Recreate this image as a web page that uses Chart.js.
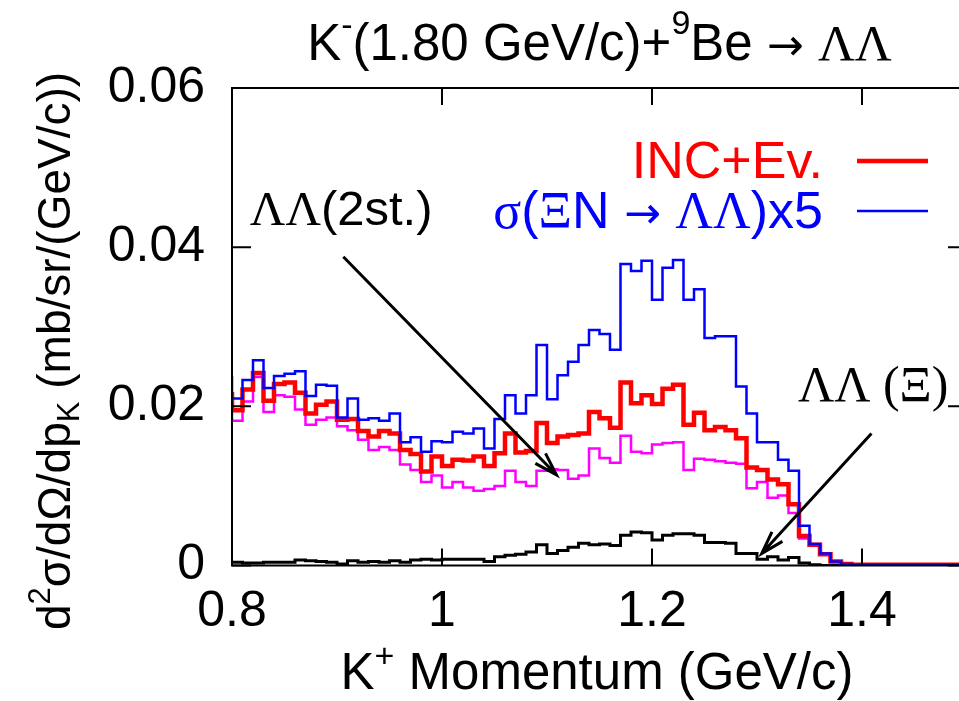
<!DOCTYPE html>
<html>
<head>
<meta charset="utf-8">
<script src="https://cdn.jsdelivr.net/npm/chart.js@4/dist/chart.umd.min.js"></script>
<style>
  html, body { margin: 0; padding: 0; background: #fff; overflow: hidden; }
  #wrap { width: 970px; height: 701px; }
</style>
</head>
<body>
<div id="wrap"><canvas id="spectrum" width="970" height="701"></canvas></div>
<script>
// K+ momentum bins: 0.80 ... 1.50 GeV/c, 0.01 wide
const binStart = 0.80;
const binWidth = 0.01;

// INC+Ev. (red)
const incEv = [
  0.0218, 0.0195, 0.0221, 0.0242, 0.0207, 0.0228, 0.0230, 0.0217, 0.0191, 0.0202,
  0.0206, 0.0183, 0.0184, 0.0169, 0.0162, 0.0169, 0.0166, 0.0145, 0.0140, 0.0118,
  0.0137, 0.0125, 0.0133, 0.0132, 0.0137, 0.0125, 0.0141, 0.0166, 0.0142, 0.0144,
  0.0179, 0.0154, 0.0162, 0.0164, 0.0166, 0.0193, 0.0185, 0.0173, 0.0230, 0.0204,
  0.0214, 0.0203, 0.0222, 0.0227, 0.0177, 0.0192, 0.0170, 0.0174, 0.0170, 0.0160,
  0.0123, 0.0120, 0.0108, 0.0102, 0.0077, 0.0037, 0.0026, 0.0014, 0.0005, 0.0002,
  0.0001, 0.0001, 0.0001, 0.0001, 0.0001, 0.0001, 0.0001, 0.0001, 0.0001, 0.0001
];

// sigma(XiN -> LL) x5 (blue)
const xiNx5 = [
  0.0238, 0.0210, 0.0233, 0.0258, 0.0223, 0.0238, 0.0241, 0.0244, 0.0213, 0.0227,
  0.0226, 0.0186, 0.0210, 0.0183, 0.0185, 0.0182, 0.0191, 0.0155, 0.0161, 0.0143,
  0.0156, 0.0155, 0.0168, 0.0166, 0.0172, 0.0147, 0.0184, 0.0214, 0.0191, 0.0214,
  0.0277, 0.0209, 0.0239, 0.0256, 0.0277, 0.0296, 0.0291, 0.0271, 0.0379, 0.0370,
  0.0383, 0.0334, 0.0374, 0.0384, 0.0334, 0.0347, 0.0286, 0.0288, 0.0288, 0.0225,
  0.0191, 0.0155, 0.0155, 0.0133, 0.0119, 0.0050, 0.0027, 0.0015, 0.0005, 0.0002,
  0.0001, 0.0001, 0.0001, 0.0001, 0.0001, 0.0001, 0.0001, 0.0001, 0.0001, 0.0001
];

// LL two-step (magenta)
const twoStep = [
  0.0206, 0.0182, 0.0206, 0.0237, 0.0193, 0.0214, 0.0212, 0.0196, 0.0177, 0.0183,
  0.0186, 0.0175, 0.0170, 0.0158, 0.0145, 0.0149, 0.0145, 0.0127, 0.0120, 0.0105,
  0.0113, 0.0098, 0.0105, 0.0098, 0.0094, 0.0096, 0.0100, 0.0119, 0.0105, 0.0100,
  0.0119, 0.0121, 0.0120, 0.0109, 0.0113, 0.0147, 0.0135, 0.0129, 0.0163, 0.0143,
  0.0141, 0.0152, 0.0154, 0.0155, 0.0120, 0.0134, 0.0133, 0.0131, 0.0129, 0.0128,
  0.0097, 0.0105, 0.0085, 0.0088, 0.0066, 0.0034, 0.0026, 0.0014, 0.0005, 0.0002,
  0.0001, 0.0001, 0.0001, 0.0001, 0.0001, 0.0001, 0.0001, 0.0001, 0.0001, 0.0001
];

// LL via Xi (black)
const viaXi = [
  0.0004, 0.0004, 0.0003, 0.0003, 0.0004, 0.0004, 0.0004, 0.0007, 0.0006, 0.0005,
  0.0004, 0.0002, 0.0006, 0.0004, 0.0005, 0.0004, 0.0006, 0.0004, 0.0007, 0.0008,
  0.0007, 0.0008, 0.0008, 0.0008, 0.0008, 0.0005, 0.0011, 0.0013, 0.0014, 0.0017,
  0.0026, 0.0015, 0.0019, 0.0023, 0.0028, 0.0026, 0.0027, 0.0025, 0.0038, 0.0042,
  0.0041, 0.0032, 0.0038, 0.0040, 0.0040, 0.0038, 0.0029, 0.0029, 0.0028, 0.0015,
  0.0015, 0.0008, 0.0011, 0.0007, 0.0010, 0.0003, 0.0001, 0.0000, 0.0000, 0.0000,
  0.0000, 0.0000, 0.0000, 0.0000, 0.0000, 0.0000, 0.0000, 0.0000, 0.0000, 0.0000
];

const xTicks = [0.8, 1.0, 1.2, 1.4];
const yTicks = [0, 0.02, 0.04, 0.06];

const SANS = '"Liberation Sans", Arial, Helvetica, sans-serif';
const SERIF = '"Liberation Serif", "Times New Roman", serif';
const ARROW = '"DejaVu Sans", sans-serif';

// turn a list of bin contents into a step outline
function histo(values) {
  const pts = values.map((v, i) => ({ x: +(binStart + i * binWidth).toFixed(2), y: v }));
  pts.push({ x: +(binStart + values.length * binWidth).toFixed(2), y: values[values.length - 1] });
  return pts;
}

function drawRuns(ctx, runs, x, y, align, color) {
  let total = 0;
  runs.forEach(r => {
    ctx.font = r.font;
    r.w = ctx.measureText(r.t).width;
    total += r.w;
  });
  let cx = align === 'center' ? x - total / 2 : align === 'right' ? x - total : x;
  ctx.textAlign = 'left';
  ctx.textBaseline = 'alphabetic';
  runs.forEach(r => {
    ctx.font = r.font;
    ctx.fillStyle = r.color || color;
    ctx.fillText(r.t, cx, y + (r.dy || 0));
    cx += r.w;
  });
}

function arrow(ctx, x0, y0, x1, y1) {
  const a = Math.atan2(y1 - y0, x1 - x0);
  const len = 24, spread = 0.3;
  ctx.beginPath();
  ctx.moveTo(x0, y0);
  ctx.lineTo(x1, y1);
  ctx.moveTo(x1 - len * Math.cos(a - spread), y1 - len * Math.sin(a - spread));
  ctx.lineTo(x1, y1);
  ctx.lineTo(x1 - len * Math.cos(a + spread), y1 - len * Math.sin(a + spread));
  ctx.stroke();
}

const f = (size, fam) => size + 'px ' + (fam || SANS);

const decorations = {
  id: 'decorations',
  afterDraw(chart) {
    const ctx = chart.ctx;
    const area = chart.chartArea;
    const xs = chart.scales.x, ys = chart.scales.y;
    ctx.save();
    ctx.strokeStyle = '#000';
    ctx.lineWidth = 2;
    ctx.lineCap = 'butt';

    // border box
    ctx.strokeRect(area.left, area.top, area.right - area.left, area.bottom - area.top);

    // inward ticks on all four sides
    ctx.beginPath();
    xTicks.forEach(v => {
      const px = xs.getPixelForValue(v);
      ctx.moveTo(px, area.bottom); ctx.lineTo(px, area.bottom - 17);
      ctx.moveTo(px, area.top); ctx.lineTo(px, area.top + 17);
    });
    yTicks.forEach(v => {
      const py = ys.getPixelForValue(v);
      ctx.moveTo(area.left, py); ctx.lineTo(area.left + 19, py);
      ctx.moveTo(area.right, py); ctx.lineTo(area.right - 19, py);
    });
    ctx.stroke();

    // title
    const midX = (area.left + area.right) / 2;
    drawRuns(ctx, [
      { t: 'K', font: f(51) },
      { t: '-', font: f(34), dy: -24 },
      { t: '(1.80 GeV/c)+', font: f(51) },
      { t: '9', font: f(34), dy: -26 },
      { t: 'Be ', font: f(51) },
      { t: '\u2192', font: f(44, ARROW) },
      { t: ' ', font: f(51) },
      { t: '\u039B\u039B', font: f(51, SERIF) }
    ], midX, 60, 'center', '#000');

    // x title
    drawRuns(ctx, [
      { t: 'K', font: f(51) },
      { t: '+', font: f(34), dy: -22 },
      { t: ' Momentum (GeV/c)', font: f(51) }
    ], 597, 689, 'center', '#000');

    // y title
    ctx.save();
    ctx.translate(70, 351);
    ctx.rotate(-Math.PI / 2);
    drawRuns(ctx, [
      { t: 'd', font: f(46) },
      { t: '2', font: f(31), dy: -20 },
      { t: '\u03C3/d\u03A9/dp', font: f(46) },
      { t: 'K', font: f(31), dy: 9 },
      { t: ' (mb/sr/(GeV/c))', font: f(46) }
    ], 0, 0, 'center', '#000');
    ctx.restore();

    // legend
    drawRuns(ctx, [{ t: 'INC+Ev.', font: f(52) }], 823, 178, 'right', '#ff0000');
    ctx.strokeStyle = '#ff0000';
    ctx.lineWidth = 4.5;
    ctx.beginPath(); ctx.moveTo(857, 161); ctx.lineTo(928, 161); ctx.stroke();

    drawRuns(ctx, [
      { t: '\u03C3', font: f(52, SERIF) },
      { t: '(', font: f(52) },
      { t: '\u039E', font: f(52, SERIF) },
      { t: 'N ', font: f(52) },
      { t: '\u2192', font: f(44, ARROW) },
      { t: ' ', font: f(52) },
      { t: '\u039B\u039B', font: f(52, SERIF) },
      { t: ')x5', font: f(52) }
    ], 823, 228, 'right', '#0000ff');
    ctx.strokeStyle = '#0000ff';
    ctx.lineWidth = 2.5;
    ctx.beginPath(); ctx.moveTo(857, 211); ctx.lineTo(928, 211); ctx.stroke();

    // annotations, anchored in data units
    drawRuns(ctx, [
      { t: '\u039B\u039B', font: f(49, SERIF) },
      { t: '(2st.)', font: f(49) }
    ], xs.getPixelForValue(0.817), ys.getPixelForValue(0.0428), 'left', '#000');
    drawRuns(ctx, [
      { t: '\u039B\u039B (\u039E)', font: f(50, SERIF) }
    ], xs.getPixelForValue(1.339), ys.getPixelForValue(0.0207), 'left', '#000');

    ctx.strokeStyle = '#000';
    ctx.lineWidth = 3;
    arrow(ctx, xs.getPixelForValue(0.906), ys.getPixelForValue(0.0388),
               xs.getPixelForValue(1.109), ys.getPixelForValue(0.0114));
    arrow(ctx, xs.getPixelForValue(1.409), ys.getPixelForValue(0.0166),
               xs.getPixelForValue(1.3045), ys.getPixelForValue(0.0015));
    ctx.restore();
  }
};

function series(values, color, width, order) {
  return {
    data: histo(values),
    borderColor: color,
    borderWidth: width,
    stepped: 'after',
    pointRadius: 0,
    fill: false,
    order: order
  };
}

new Chart(document.getElementById('spectrum').getContext('2d'), {
  type: 'line',
  data: {
    datasets: [
      series(xiNx5, '#0000ff', 2.5, 1),
      series(incEv, '#ff0000', 4.5, 2),
      series(twoStep, '#ff00ff', 2.5, 3),
      series(viaXi, '#000000', 3, 4)
    ]
  },
  options: {
    responsive: false,
    animation: false,
    layout: { padding: { top: 88, right: 3, left: 0, bottom: 0 } },
    plugins: { legend: { display: false }, tooltip: { enabled: false }, title: { display: false } },
    scales: {
      x: {
        type: 'linear',
        min: 0.8,
        max: 1.5,
        grid: { display: false, drawTicks: false },
        border: { display: false },
        afterFit: s => { s.height = 135.5; },
        ticks: {
          stepSize: 0.2,
          includeBounds: false,
          padding: 17,
          color: '#000',
          font: { family: SANS, size: 50 },
          maxRotation: 0,
          callback: v => {
            const r = Math.round(v * 10) / 10;
            return xTicks.some(t => Math.abs(t - r) < 1e-9) && Math.abs(v - r) < 1e-6 ? String(r) : '';
          }
        }
      },
      y: {
        min: 0,
        max: 0.06,
        grid: { display: false, drawTicks: false },
        border: { display: false },
        afterFit: s => { s.width = 232; },
        ticks: {
          stepSize: 0.02,
          padding: 27,
          color: '#000',
          font: { family: SANS, size: 50 },
          callback: v => (Math.abs(v) < 1e-9 ? '0' : v.toFixed(2))
        }
      }
    }
  },
  plugins: [decorations]
});
</script>
</body>
</html>
